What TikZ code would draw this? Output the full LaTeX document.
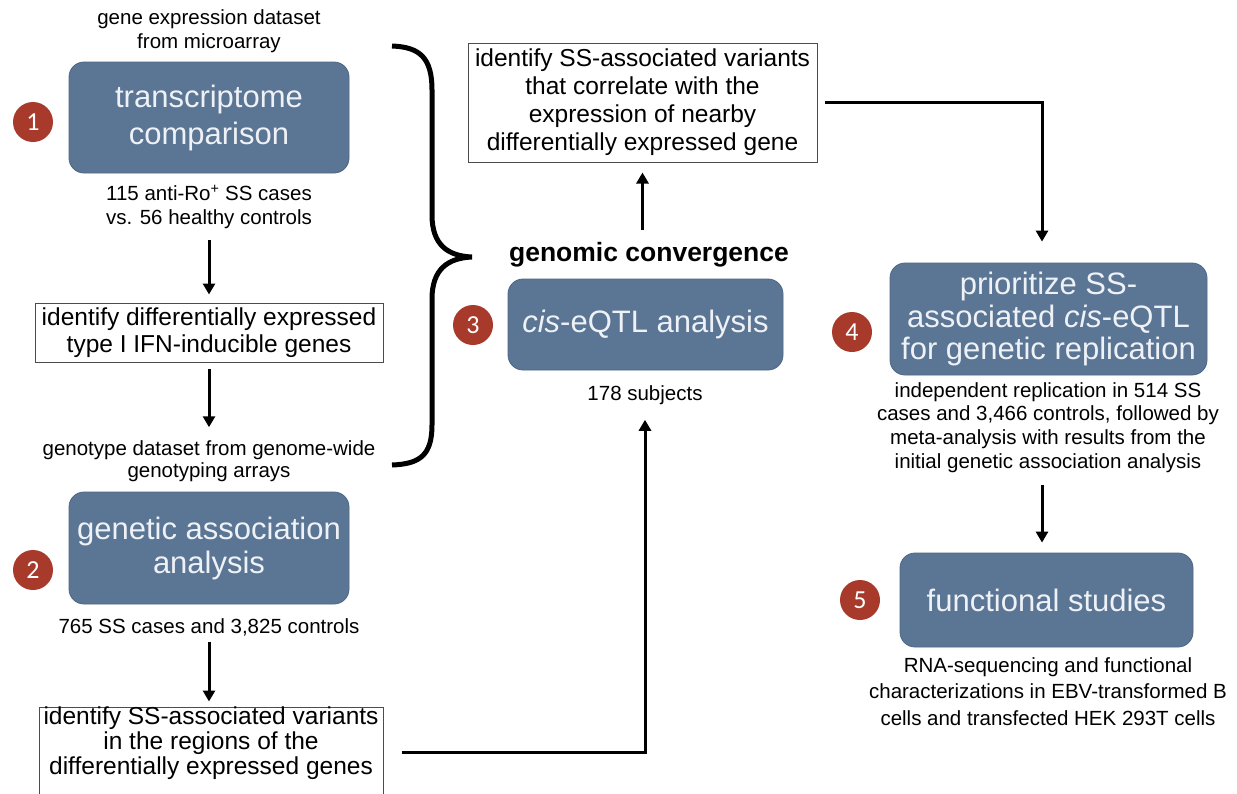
\documentclass[tikz,border=0pt]{standalone}
\usepackage{fontspec}
\setmainfont{Liberation Sans}
\newfontfamily\numfont{Carlito}
\usetikzlibrary{arrows.meta}
\definecolor{boxblue}{HTML}{5B7594}
\definecolor{boxedge}{HTML}{4E6784}
\definecolor{numred}{HTML}{A83A2C}
\definecolor{boxtext}{HTML}{EEF2F6}
\begin{document}
\begin{tikzpicture}[x=1pt,y=-1pt,
  bluebox/.style={rectangle, rounded corners=15pt, fill=boxblue, draw=boxedge, line width=0.8pt, text=boxtext, align=center, inner sep=0pt},
  wbox/.style={rectangle, draw=black!70, line width=1pt, fill=white, align=center, inner sep=0pt},
  lbl/.style={align=center, inner sep=0pt, font=\fontsize{20.5}{24}\selectfont},
  numc/.style={circle, fill=numred, minimum size=40pt, inner sep=0pt, text=white, font=\numfont\fontsize{26}{28}\selectfont},
  arr/.style={line width=3pt, -{Triangle[width=12pt,length=11pt]}},
]
\useasboundingbox (0,0) rectangle (1237,793);
\fill[white] (0,0) rectangle (1237,793);
\clip (0,0) rectangle (1237,793);

% left column
\node[lbl] (l1) at (209,31) {gene expression dataset\\from microarray};
\node[bluebox, minimum width=280pt, minimum height=111pt, font=\fontsize{31}{37}\selectfont] (b1) at (209,117.5) {transcriptome\\comparison};
\node[numc] (n1) at (33,122) {1};
\node[lbl] (l1b) at (209,207) {115 anti-Ro\textsuperscript{+} SS cases\\vs. 56 healthy controls};
\node[wbox, minimum width=348pt, minimum height=59pt, font=\fontsize{24.5}{27}\selectfont] (w1) at (209,332.5) {identify differentially expressed\\type I IFN-inducible genes};
\node[lbl, font=\fontsize{20.5}{22}\selectfont] (l2) at (209,461) {genotype dataset from genome-wide\\genotyping arrays};
\node[bluebox, minimum width=280pt, minimum height=112pt, font=\fontsize{31}{34}\selectfont] (b2) at (209,548) {genetic association\\analysis};
\node[numc] (n2) at (33,570) {2};
\node[lbl] (l2b) at (209,627) {765 SS cases and 3,825 controls};
\node[wbox, minimum width=344pt, minimum height=90pt] (w2) at (211,752) {};
\node[align=center, inner sep=0pt, font=\fontsize{24.5}{25}\selectfont] (w2t) at (211,743) {identify SS-associated variants\\in the regions of the\\differentially expressed genes};

\draw[arr, shorten <=11pt, shorten >=8pt] (l1b.south) -- (w1.north);
\draw[arr, shorten <=6pt, shorten >=13pt] (w1.south) -- (l2.north);
\draw[arr, shorten <=6pt, shorten >=5pt] (l2b.south) -- (w2.north -| l2b.south);

% brace
\draw[line width=5pt] (392,46) .. controls (420,47) and (432,58) .. (432,90) -- (432,215)
  .. controls (432,245) and (448,256) .. (472,257)
  .. controls (448,258) and (432,269) .. (432,299) -- (432,425)
  .. controls (432,455) and (420,464) .. (392,465);

% middle column
\node[wbox, minimum width=349pt, minimum height=119pt, font=\fontsize{24.5}{28}\selectfont] (wt) at (642.5,102.5) {identify SS-associated variants\\that correlate with the\\expression of nearby\\differentially expressed gene};
\node[lbl, font=\bfseries\fontsize{26.5}{30}\selectfont] (gc) at (649,255) {genomic convergence};
\node[bluebox, minimum width=275pt, minimum height=91pt, font=\fontsize{31}{37}\selectfont] (b3) at (645.5,324.5) {\textit{cis}-eQTL analysis};
\node[numc] (n3) at (473,325) {3};
\node[lbl] (l3) at (645,395) {178 subjects};

\draw[arr, shorten <=12.5pt, shorten >=10pt] (gc.north -| wt.south) -- (wt.south);
\draw[arr, shorten <=18pt, shorten >=15pt] (w2.east) -| (l3.south);

% right column
\node[bluebox, minimum width=317pt, minimum height=112pt, font=\fontsize{31}{32.5}\selectfont] (b4) at (1048.5,319) {prioritize SS-\\associated \textit{cis}-eQTL\\for genetic replication};
\node[numc] (n4) at (852,332) {4};
\node[lbl, font=\fontsize{20.5}{23.7}\selectfont] (l4) at (1048,427.5) {independent replication in 514 SS\\cases and 3,466 controls, followed by\\meta-analysis with results from the\\initial genetic association analysis};
\node[bluebox, minimum width=293pt, minimum height=94pt, font=\fontsize{31}{37}\selectfont] (b5) at (1046.5,600) {functional studies};
\node[numc] (n5) at (860,600) {5};
\node[lbl, font=\fontsize{20.5}{26.5}\selectfont] (l5) at (1048,691.5) {RNA-sequencing and functional\\characterizations in EBV-transformed B\\cells and transfected HEK 293T cells};

\draw[arr, shorten <=7pt, shorten >=21pt] (wt.east) -| ([xshift=-6.5pt]b4.north);
\draw[arr, shorten <=12pt, shorten >=10pt] ([xshift=-6pt]l4.south) -- ([xshift=-4.5pt]b5.north);
\end{tikzpicture}
\end{document}
